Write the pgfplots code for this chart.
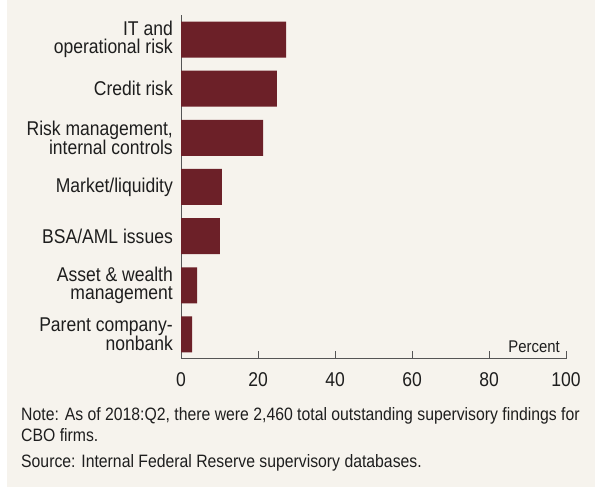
\documentclass[border=0pt]{standalone}
\usepackage{fontspec}
\setmainfont{Liberation Sans}[FakeStretch=0.88]
\usepackage{pgfplots}
\pgfplotsset{compat=1.18}
\definecolor{bg}{RGB}{246,243,237}
\definecolor{barc}{RGB}{108,32,40}
\definecolor{axc}{RGB}{85,85,85}
\definecolor{txt}{RGB}{30,30,30}
\begin{document}
\begin{tikzpicture}[x=1bp,y=1bp]
\fill[white] (0,0) rectangle (595,487);
\fill[bg] (7,0) rectangle (595,487);
\begin{axis}[
  at={(181bp,128bp)}, anchor=south west,
  scale only axis, width=385bp, height=344bp,
  xmin=0, xmax=100, ymin=-0.5, ymax=6.5,
  axis lines*=left,
  axis line style={axc, line width=1bp},
  xbar, bar width=36bp,
  xtick={0,20,40,60,80,100},
  tick align=inside, major tick length=8bp,
  xtick style={axc, line width=1bp},
  ytick={0,1,2,3,4,5,6},
  yticklabels={{Parent company-\\nonbank},{Asset \& wealth\\management},{BSA/AML issues},{Market/liquidity},{Risk management,\\internal controls},{Credit risk},{IT and\\operational risk}},
  ytick style={draw=none},
  yticklabel style={align=right, text=txt, font=\fontsize{20}{18.6}\selectfont, inner sep=0pt, xshift=-8bp},
  xticklabel style={text=txt, font=\fontsize{20}{20}\selectfont, inner sep=0pt, yshift=-13bp},
  /pgf/number format/assume math mode=true,
  clip=false,
]
\addplot[fill=barc, draw=none] coordinates {(2.9,0) (4.2,1) (10.1,2) (10.6,3) (21.3,4) (24.9,5) (27.3,6)};
\node[anchor=south east, text=txt, font=\fontsize{17}{17}\selectfont, inner sep=0pt, xshift=-6bp, yshift=6bp] at (axis cs:100,-0.5) {Percent};
\end{axis}
\node[anchor=base west, text=txt, inner sep=0pt, font=\fontsize{18}{18}\selectfont] at (21,66) {Note: As of 2018:Q2, there were 2,460 total outstanding supervisory findings for};
\node[anchor=base west, text=txt, inner sep=0pt, font=\fontsize{18}{18}\selectfont] at (21,45) {CBO firms.};
\node[anchor=base west, text=txt, inner sep=0pt, font=\fontsize{18}{18}\selectfont] at (21,19) {Source: Internal Federal Reserve supervisory databases.};
\end{tikzpicture}
\end{document}
